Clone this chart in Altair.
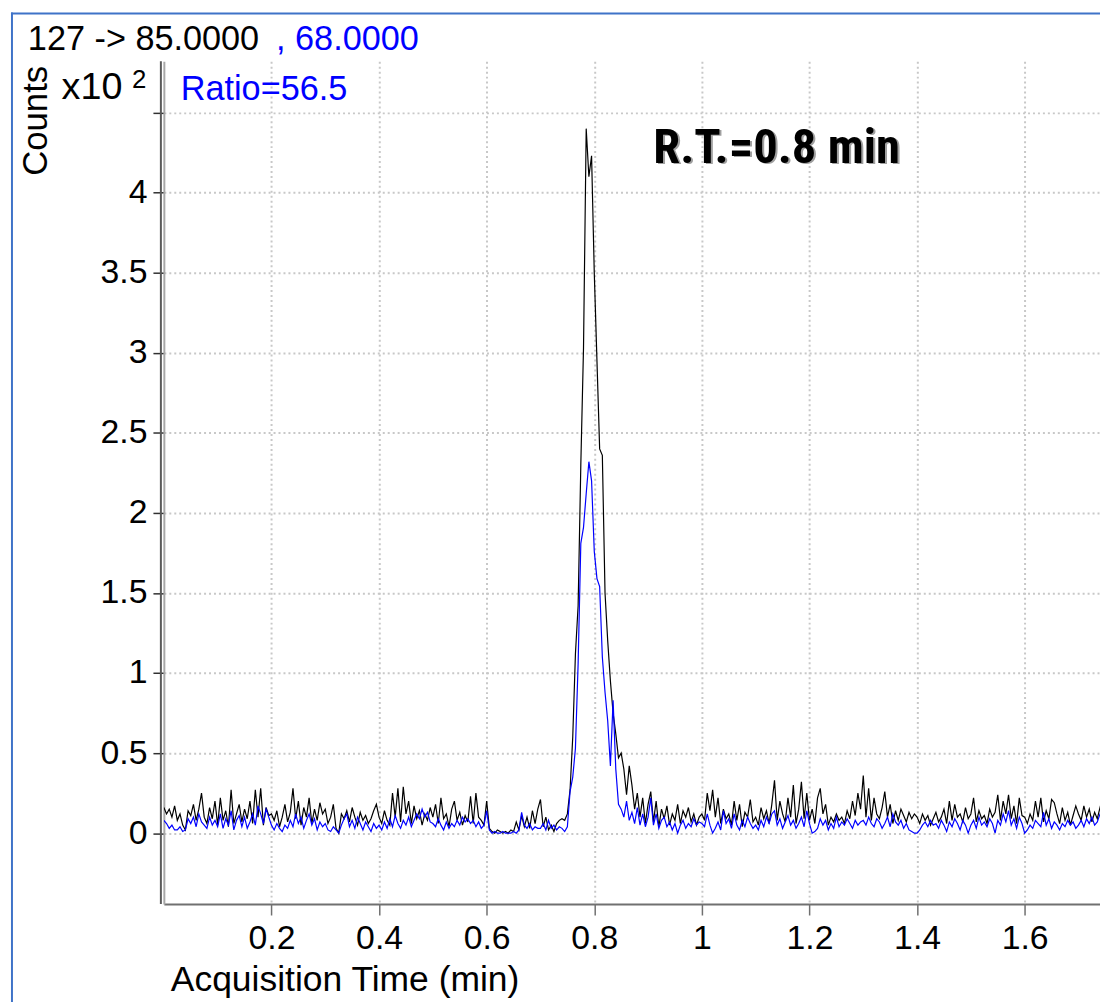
import altair as alt
import pandas as pd

# ---------------- data (x10^2 counts), sampled every 0.005 min from 0 ----------------
T_START = 0.0
T_STEP = 0.005

counts_85 = [
    # 0.00 - 0.095
    0.16, 0.12, 0.15, 0.10, 0.17, 0.08, 0.12, 0.05, 0.02, 0.14, 0.11, 0.18, 0.08, 0.15, 0.25, 0.10, 0.06, 0.16, 0.09, 0.20,
    # 0.10 - 0.195
    0.05, 0.22, 0.08, 0.14, 0.04, 0.27, 0.06, 0.12, 0.18, 0.07, 0.15, 0.09, 0.20, 0.06, 0.27, 0.10, 0.28, 0.05, 0.16, 0.11,
    # 0.20 - 0.295
    0.12, 0.08, 0.14, 0.04, 0.10, 0.18, 0.07, 0.13, 0.28, 0.09, 0.20, 0.05, 0.16, 0.10, 0.22, 0.06, 0.15, 0.08, 0.19, 0.12,
    # 0.30 - 0.395
    0.15, 0.06, 0.10, 0.18, 0.03, 0.00, 0.12, 0.09, 0.14, 0.07, 0.16, 0.10, 0.05, 0.13, 0.08, 0.11, 0.06, 0.09, 0.14, 0.18,
    # 0.40 - 0.495
    0.10, 0.06, 0.14, 0.08, 0.05, 0.25, 0.10, 0.28, 0.07, 0.29, 0.12, 0.20, 0.06, 0.17, 0.09, 0.14, 0.05, 0.12, 0.08, 0.16,
    # 0.50 - 0.595
    0.10, 0.18, 0.06, 0.22, 0.09, 0.12, 0.04, 0.15, 0.20, 0.08, 0.13, 0.05, 0.11, 0.07, 0.23, 0.06, 0.25, 0.10, 0.08, 0.05,
    # 0.60 - 0.695
    0.20, 0.03, 0.01, 0.00, 0.02, 0.01, 0.00, 0.01, 0.00, 0.02, 0.01, 0.07, 0.02, 0.11, 0.04, 0.10, 0.03, 0.14, 0.06, 0.15,
    # 0.70 - 0.795
    0.21, 0.04, 0.10, 0.02, 0.05, 0.01, 0.06, 0.08, 0.09, 0.08, 0.12, 0.27, 0.60, 1.12, 1.42, 2.30, 3.03, 4.40, 4.10, 4.23,
    # 0.80 - 0.895
    3.50, 2.95, 2.40, 2.36, 1.50, 1.20, 0.95, 0.75, 0.62, 0.47, 0.50, 0.40, 0.24, 0.42, 0.30, 0.15, 0.25, 0.10, 0.22, 0.06,
    # 0.90 - 0.995
    0.18, 0.26, 0.07, 0.20, 0.04, 0.15, 0.09, 0.17, 0.05, 0.12, 0.08, 0.18, 0.06, 0.14, 0.10, 0.16, 0.07, 0.12, 0.05, 0.10,
    # 1.00 - 1.095
    0.12, 0.08, 0.25, 0.14, 0.27, 0.10, 0.22, 0.06, 0.15, 0.09, 0.12, 0.05, 0.20, 0.08, 0.18, 0.04, 0.13, 0.10, 0.21, 0.07,
    # 1.10 - 1.195
    0.10, 0.05, 0.16, 0.09, 0.14, 0.06, 0.18, 0.33, 0.08, 0.20, 0.12, 0.07, 0.22, 0.10, 0.30, 0.06, 0.15, 0.32, 0.09, 0.25,
    # 1.20 - 1.295
    0.08, 0.15, 0.06, 0.22, 0.28, 0.12, 0.18, 0.05, 0.10, 0.07, 0.12, 0.08, 0.10, 0.06, 0.14, 0.09, 0.20, 0.11, 0.25, 0.15,
    # 1.30 - 1.395
    0.36, 0.10, 0.28, 0.08, 0.22, 0.12, 0.09, 0.16, 0.26, 0.10, 0.18, 0.06, 0.14, 0.08, 0.15, 0.11, 0.07, 0.13, 0.09, 0.12,
    # 1.40 - 1.495
    0.10, 0.06, 0.12, 0.08, 0.11, 0.05, 0.09, 0.13, 0.07, 0.10, 0.15, 0.06, 0.20, 0.08, 0.18, 0.10, 0.12, 0.07, 0.16, 0.09,
    # 1.50 - 1.595
    0.12, 0.22, 0.07, 0.14, 0.09, 0.11, 0.06, 0.15, 0.10, 0.13, 0.24, 0.08, 0.20, 0.12, 0.24, 0.09, 0.17, 0.06, 0.22, 0.11,
    # 1.60 - 1.695
    0.10, 0.06, 0.12, 0.08, 0.20, 0.10, 0.22, 0.07, 0.14, 0.09, 0.21, 0.19, 0.12, 0.06, 0.16, 0.08, 0.13, 0.05, 0.11, 0.17,
    # 1.70 - 1.775
    0.12, 0.08, 0.17, 0.10, 0.15, 0.07, 0.13, 0.09, 0.16, 0.22, 0.06, 0.18, 0.05, 0.14, 0.20, 0.10,
]

counts_68 = [
    # 0.00 - 0.095
    0.08, 0.06, 0.03, 0.05, 0.02, 0.02, 0.04, 0.01, 0.02, 0.09, 0.06, 0.10, 0.04, 0.12, 0.07, 0.05, 0.03, 0.10, 0.05, 0.08,
    # 0.10 - 0.195
    0.04, 0.12, 0.03, 0.09, 0.05, 0.14, 0.02, 0.08, 0.11, 0.04, 0.10, 0.03, 0.07, 0.12, 0.05, 0.17, 0.12, 0.06, 0.15, 0.10,
    # 0.20 - 0.295
    0.05, 0.02, 0.06, 0.03, 0.01, 0.05, 0.03, 0.08, 0.04, 0.12, 0.06, 0.10, 0.03, 0.08, 0.12, 0.05, 0.09, 0.02, 0.07, 0.04,
    # 0.30 - 0.395
    0.06, 0.02, 0.01, 0.04, 0.02, 0.00, 0.05, 0.09, 0.12, 0.04, 0.08, 0.03, 0.10, 0.06, 0.02, 0.07, 0.04, 0.01, 0.06, 0.03,
    # 0.40 - 0.495
    0.05, 0.02, 0.07, 0.03, 0.09, 0.04, 0.11, 0.06, 0.03, 0.08, 0.05, 0.10, 0.04, 0.08, 0.12, 0.09, 0.15, 0.10, 0.13, 0.07,
    # 0.50 - 0.595
    0.06, 0.04, 0.09, 0.05, 0.02, 0.07, 0.03, 0.06, 0.04, 0.08, 0.05, 0.10, 0.07, 0.09, 0.06, 0.08, 0.04, 0.07, 0.03, 0.05,
    # 0.60 - 0.695
    0.14, 0.02, 0.00, 0.01, 0.00, 0.00, 0.01, 0.00, 0.00, 0.00, 0.01, 0.00, 0.02, 0.13, 0.05, 0.03, 0.06, 0.02, 0.04, 0.03,
    # 0.70 - 0.795
    0.03, 0.06, 0.02, 0.08, 0.03, 0.05, 0.02, 0.04, 0.03, 0.01, 0.04, 0.26, 0.35, 0.53, 1.06, 1.81, 1.91, 2.12, 2.32, 2.20,
    # 0.80 - 0.895
    1.76, 1.59, 1.54, 1.10, 0.88, 0.70, 0.42, 0.83, 0.40, 0.18, 0.15, 0.10, 0.20, 0.08, 0.13, 0.06, 0.16, 0.05, 0.12, 0.04,
    # 0.90 - 0.995
    0.10, 0.22, 0.05, 0.12, 0.03, 0.08, 0.10, 0.04, 0.07, 0.02, 0.06, 0.00, 0.05, 0.08, 0.03, 0.06, 0.04, 0.09, 0.05, 0.07,
    # 1.00 - 1.095
    0.06, 0.04, 0.12, 0.05, 0.00, 0.03, 0.07, 0.02, 0.14, 0.06, 0.09, 0.03, 0.12, 0.05, 0.02, 0.08, 0.04, 0.10, 0.06, 0.03,
    # 1.10 - 1.195
    0.05, 0.02, 0.08, 0.04, 0.10, 0.06, 0.12, 0.14, 0.05, 0.09, 0.03, 0.07, 0.11, 0.05, 0.08, 0.03, 0.06, 0.10, 0.04, 0.14,
    # 1.20 - 1.295
    0.06, 0.00, 0.01, 0.03, 0.09, 0.05, 0.08, 0.02, 0.06, 0.03, 0.10, 0.04, 0.07, 0.05, 0.09, 0.06, 0.03, 0.08, 0.05, 0.07,
    # 1.30 - 1.395
    0.08, 0.05, 0.10, 0.06, 0.04, 0.09, 0.07, 0.03, 0.06, 0.10, 0.04, 0.12, 0.07, 0.05, 0.08, 0.03, 0.06, 0.02, 0.01, 0.00,
    # 1.40 - 1.495
    0.00, 0.02, 0.05, 0.07, 0.04, 0.08, 0.05, 0.06, 0.03, 0.08, 0.05, 0.01, 0.07, 0.04, 0.09, 0.06, 0.02, 0.08, 0.05, 0.00,
    # 1.50 - 1.595
    0.05, 0.08, 0.03, 0.10, 0.05, 0.07, 0.04, 0.09, 0.06, 0.00, 0.08, 0.05, 0.12, 0.07, 0.14, 0.05, 0.09, 0.03, 0.10, 0.06,
    # 1.60 - 1.695
    0.00, 0.02, 0.05, 0.03, 0.08, 0.06, 0.04, 0.13, 0.05, 0.09, 0.03, 0.07, 0.05, 0.02, 0.06, 0.04, 0.08, 0.05, 0.07, 0.03,
    # 1.70 - 1.775
    0.05, 0.08, 0.04, 0.09, 0.06, 0.10, 0.05, 0.07, 0.12, 0.14, 0.04, 0.08, 0.02, 0.06, 0.09, 0.05,
]

x_tick_values = [0.2, 0.4, 0.6, 0.8, 1.0, 1.2, 1.4, 1.6]
y_tick_values = [0, 0.5, 1, 1.5, 2, 2.5, 3, 3.5, 4, 4.5]
x_domain = [0, 1.74]
y_domain = [-0.443, 4.821]

header_black = "127 -> 85.0000"
header_blue = ", 68.0000"
ratio_text = "Ratio=56.5"
scale_text = "x10"
scale_exp = "2"
rt_text = "R.T.=0.8 min"
x_title = "Acquisition Time (min)"
y_title = "Counts"

assert len(counts_85) == len(counts_68)
n = len(counts_85)
times = [round(T_START + i * T_STEP, 4) for i in range(n)]

df85 = pd.DataFrame({"t": times, "v": counts_85})
df68 = pd.DataFrame({"t": times, "v": counts_68})

FONT = "Liberation Sans, Arial, sans-serif"
W, H = 943, 849


def make_x_axis():
    return alt.Axis(
        values=x_tick_values, format="~g", title=None,
        labelFont=FONT, labelFontSize=34, labelColor="#000000", labelPadding=7,
        labelFlush=False, labelOverlap=False,
        tickSize=11, tickColor="#707070", tickWidth=1.5,
        domainColor="#707070", domainWidth=2,
        grid=True, gridColor="#c8c8c8", gridDash=[2, 3], gridWidth=2,
    )


def make_y_axis():
    return alt.Axis(
        values=y_tick_values, format="~g", title=None,
        labelExpr="datum.value > 4.4 ? '' : datum.label",
        labelFont=FONT, labelFontSize=34, labelColor="#000000", labelPadding=6,
        labelOverlap=False, labelFlush=False,
        tickSize=11, tickColor="#303030", tickWidth=1.5,
        domainColor="#a8a8a8", domainWidth=2,
        grid=True, gridColor="#c8c8c8", gridDash=[2, 3], gridWidth=2,
    )


xs = alt.Scale(domain=x_domain, nice=False, zero=False)
ys = alt.Scale(domain=y_domain, nice=False, zero=False)

black_line = alt.Chart(df85).mark_line(color="#000000", strokeWidth=1.2, clip=True).encode(
    x=alt.X("t:Q", scale=xs, axis=make_x_axis()),
    y=alt.Y("v:Q", scale=ys, axis=make_y_axis()),
)
blue_line = alt.Chart(df68).mark_line(color="#0000ff", strokeWidth=1.2, clip=True).encode(
    x=alt.X("t:Q", scale=xs, axis=make_x_axis()),
    y=alt.Y("v:Q", scale=ys, axis=make_y_axis()),
)


def label(text, x, y, size=34.5, color="#000000", align="left", baseline="alphabetic",
          weight="normal", font=FONT, angle=0):
    return alt.Chart(pd.DataFrame({"label": [text]})).mark_text(
        align=align, baseline=baseline, font=font, fontSize=size, color=color,
        fontWeight=weight, angle=angle,
    ).encode(x=alt.value(x), y=alt.value(y), text="label:N")


one = pd.DataFrame({"k": [0]})
frame_top = alt.Chart(one).mark_rule(color="#3f73c8", strokeWidth=2).encode(
    x=alt.value(-154), x2=alt.value(W + 10), y=alt.value(-48))
frame_left = alt.Chart(one).mark_rule(color="#3f73c8", strokeWidth=2).encode(
    x=alt.value(-153), y=alt.value(-49), y2=alt.value(H + 120))
# second (darker) line of the double y-axis line
axis_inner = alt.Chart(one).mark_rule(color="#5a5a5a", strokeWidth=2).encode(
    x=alt.value(-3), y=alt.value(0), y2=alt.value(H))

NARROW = "Roboto Condensed, Liberation Sans Narrow, Roboto, sans-serif"

layers = [
    black_line,
    blue_line,
    axis_inner,
    frame_top,
    frame_left,
    label(header_black, -137, -11),
    label(header_blue, 113, -11, color="#0000ff"),
    label(scale_text, -103, 38, size=38),
    label(scale_exp, -32, 27, size=26),
    label(ratio_text, 17, 39, color="#0000ff"),
    label(y_title, -129, 60, size=35, align="center", baseline="middle", angle=270),
    label(x_title, 7, 937, size=35.7),
    label(rt_text, 495, 104, size=49, color="#a0a0a0", weight="bold", font=NARROW),
    label(rt_text, 493, 102, size=49, color="#000000", weight="bold", font=NARROW),
]

chart = alt.layer(*layers).properties(
    width=W, height=H,
    autosize=alt.AutoSizeParams(type="none"),
    padding={"left": 157, "top": 50, "right": 0, "bottom": 95},
    background="#ffffff",
).configure_view(strokeWidth=0)

chart.save("out.html", embed_options={"renderer": "svg", "actions": False})
